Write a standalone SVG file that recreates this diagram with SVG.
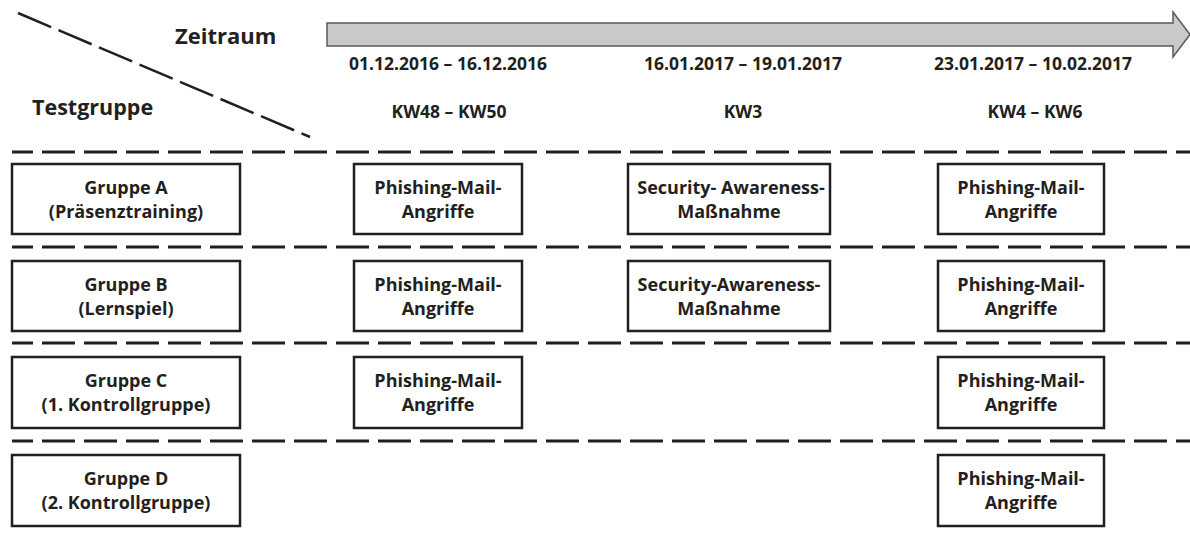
<svg xmlns="http://www.w3.org/2000/svg" width="1190" height="536" viewBox="0 0 1190 536">
<style>
text{font-family:"Open Sans","Liberation Sans",sans-serif;font-weight:bold;fill:#231f20;text-anchor:middle}
.lbl{font-size:18px}
.hdr{font-size:17.5px}
.big{font-size:22px;text-anchor:start}
.box{fill:#fff;stroke:#231f20;stroke-width:2.5}
.sep{stroke:#231f20;stroke-width:3;stroke-dasharray:33 9;stroke-dashoffset:12;fill:none}
</style>
<rect width="1190" height="536" fill="#fff"/>
<g id="header">
<line x1="18" y1="13" x2="310" y2="137" stroke="#231f20" stroke-width="2.5" stroke-dasharray="36 8"/>
<polygon points="327,23 1173,23 1173,12 1190,34.5 1173,57 1173,46 327,46" fill="#c8c9cb" stroke="#58595b" stroke-width="1.5"/>
<text class="big" x="175" y="44">Zeitraum</text>
<text class="big" x="32" y="115" style="font-size:21.5px">Testgruppe</text>
<text class="hdr" x="448" y="70">01.12.2016 – 16.12.2016</text>
<text class="hdr" x="743" y="70">16.01.2017 – 19.01.2017</text>
<text class="hdr" x="1033" y="70">23.01.2017 – 10.02.2017</text>
<text class="hdr" x="449" y="118">KW48 – KW50</text>
<text class="hdr" x="743" y="118">KW3</text>
<text class="hdr" x="1035" y="118">KW4 – KW6</text>
</g>
<g id="connectors">
<line class="sep" x1="12" y1="152" x2="1190" y2="152"/>
<line class="sep" x1="12" y1="247" x2="1190" y2="247"/>
<line class="sep" x1="12" y1="343" x2="1190" y2="343"/>
<line class="sep" x1="12" y1="441" x2="1190" y2="441"/>
</g>
<g id="gruppeA"><rect class="box" x="12" y="164" width="228" height="70"/><text class="lbl" x="126" y="194">Gruppe A</text><text class="lbl" x="126" y="218">(Präsenztraining)</text></g>
<g id="a1"><rect class="box" x="354" y="164" width="168" height="70"/><text class="lbl" x="438" y="194">Phishing-Mail-</text><text class="lbl" x="438" y="218">Angriffe</text></g>
<g id="a2"><rect class="box" x="628" y="164" width="202" height="70"/><text class="lbl" x="731" y="194">Security- Awareness-</text><text class="lbl" x="729" y="218">Maßnahme</text></g>
<g id="a3"><rect class="box" x="938" y="164" width="166" height="70"/><text class="lbl" x="1021" y="194">Phishing-Mail-</text><text class="lbl" x="1021" y="218">Angriffe</text></g>
<g id="gruppeB"><rect class="box" x="12" y="261" width="228" height="70"/><text class="lbl" x="126" y="291">Gruppe B</text><text class="lbl" x="126" y="315">(Lernspiel)</text></g>
<g id="b1"><rect class="box" x="354" y="261" width="168" height="70"/><text class="lbl" x="438" y="291">Phishing-Mail-</text><text class="lbl" x="438" y="315">Angriffe</text></g>
<g id="b2"><rect class="box" x="628" y="261" width="202" height="70"/><text class="lbl" x="729" y="291">Security-Awareness-</text><text class="lbl" x="729" y="315">Maßnahme</text></g>
<g id="b3"><rect class="box" x="938" y="261" width="166" height="70"/><text class="lbl" x="1021" y="291">Phishing-Mail-</text><text class="lbl" x="1021" y="315">Angriffe</text></g>
<g id="gruppeC"><rect class="box" x="12" y="357" width="228" height="71"/><text class="lbl" x="126" y="387">Gruppe C</text><text class="lbl" x="126" y="411">(1. Kontrollgruppe)</text></g>
<g id="c1"><rect class="box" x="354" y="357" width="168" height="71"/><text class="lbl" x="438" y="387">Phishing-Mail-</text><text class="lbl" x="438" y="411">Angriffe</text></g>
<g id="c3"><rect class="box" x="938" y="357" width="166" height="71"/><text class="lbl" x="1021" y="387">Phishing-Mail-</text><text class="lbl" x="1021" y="411">Angriffe</text></g>
<g id="gruppeD"><rect class="box" x="12" y="455" width="228" height="71"/><text class="lbl" x="126" y="485">Gruppe D</text><text class="lbl" x="126" y="509">(2. Kontrollgruppe)</text></g>
<g id="d3"><rect class="box" x="938" y="455" width="166" height="71"/><text class="lbl" x="1021" y="485">Phishing-Mail-</text><text class="lbl" x="1021" y="509">Angriffe</text></g>
</svg>
